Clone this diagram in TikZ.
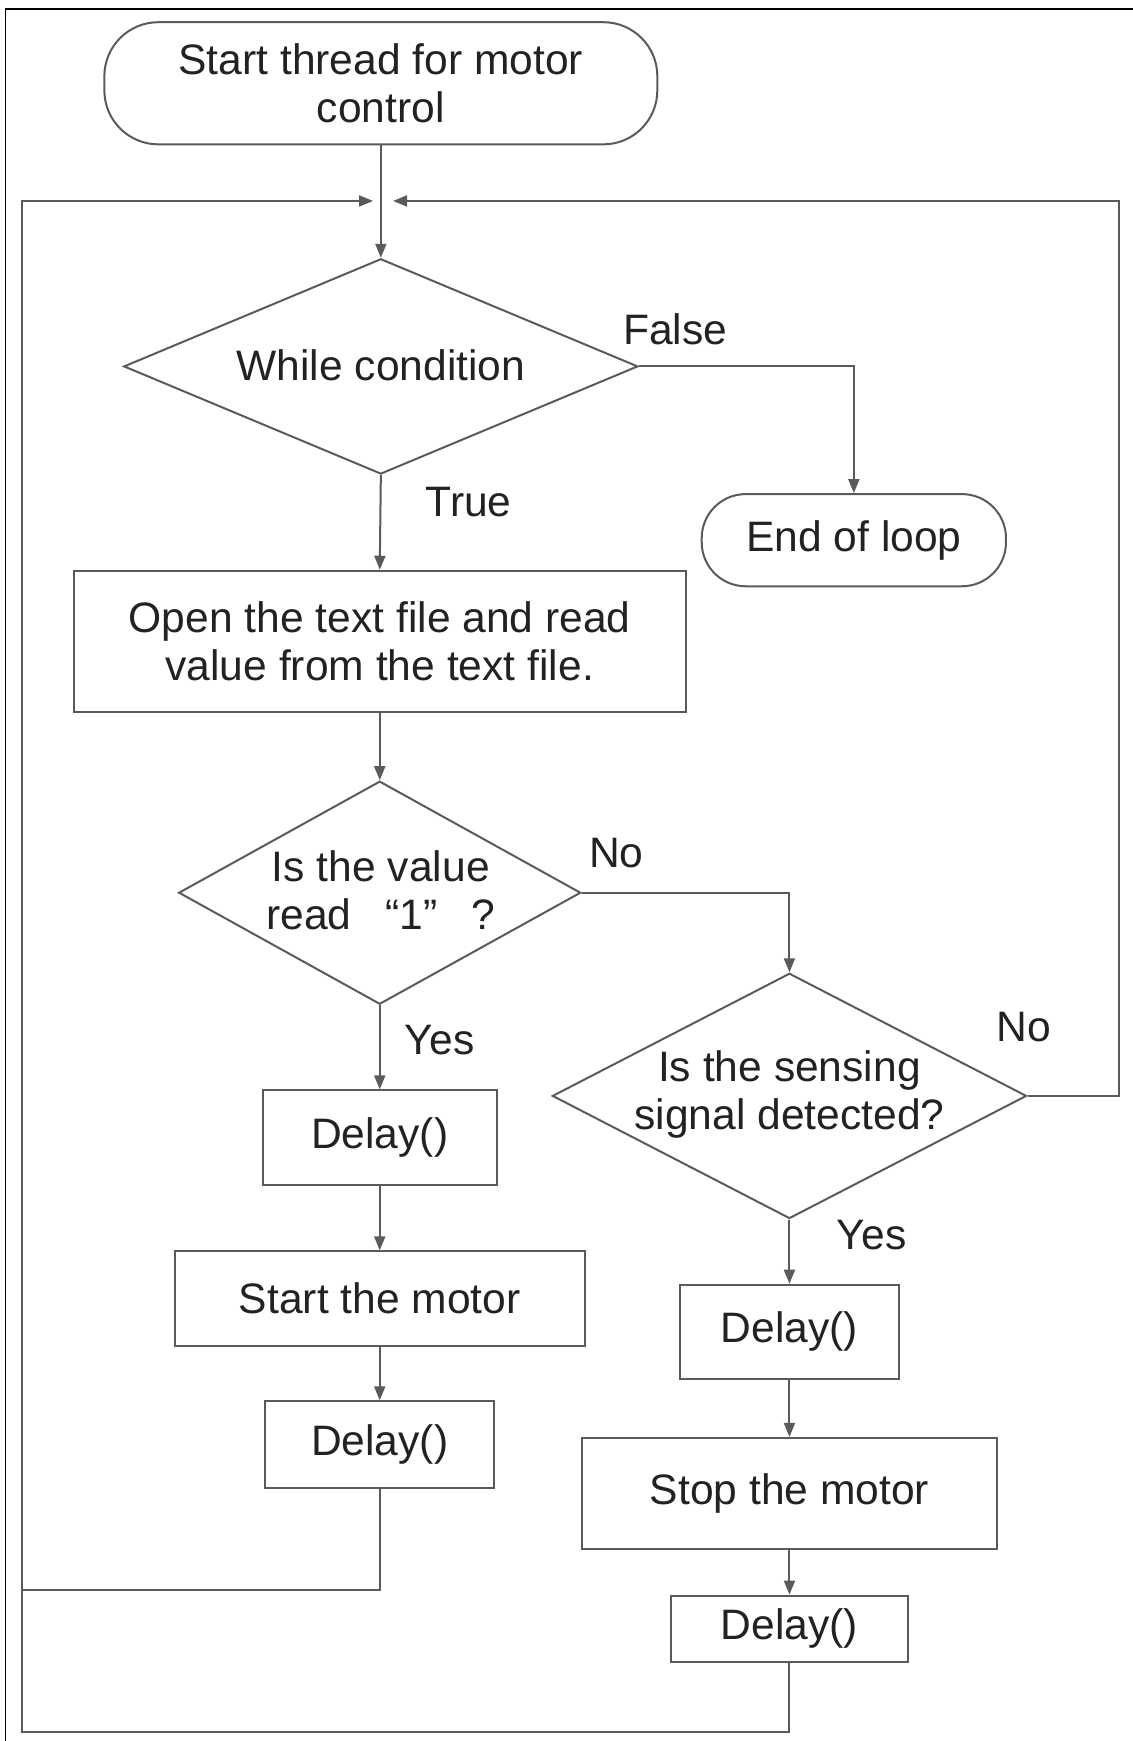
\documentclass[tikz,border=0pt]{standalone}
\usepackage{fontspec}
\setmainfont{Liberation Sans}
\usetikzlibrary{shapes.geometric,arrows.meta}
\definecolor{ln}{HTML}{5A5A5A}
\definecolor{tx}{HTML}{222222}
\begin{document}
\begin{tikzpicture}[x=0.5554pt,y=-0.5554pt,
  font=\fontsize{21.3}{24}\selectfont, text=tx,
  base/.style={draw=ln, line width=1pt, inner sep=0pt, align=center},
  term/.style={base, rectangle, rounded corners=27pt},
  box/.style={base, rectangle},
  dia/.style={base, diamond, aspect=2},
  lbl/.style={inner sep=0pt},
  txt/.style={inner sep=0pt, align=center},
  conn/.style={draw=ln, line width=1pt, -{Triangle[length=7pt,width=5.5pt]}},
  wire/.style={draw=ln, line width=1pt}]
\useasboundingbox (0,0) rectangle (1020,1568);
% frame
\draw[black, line width=0.7pt] (5,1568) -- (5,8) -- (1020,8);

% nodes
\node[term, minimum width=276.6pt, minimum height=61.1pt] (start) at (343,75) {Start thread for motor\\control};
\node[dia, minimum width=257.2pt, minimum height=107.7pt] (d1) at (343,330) {};
\node[txt] (d1t) at (343,329) {While condition};
\node[term, rounded corners=22pt, minimum width=152.2pt, minimum height=46.1pt] (end) at (769,486.5) {End of loop};
\node[box, minimum width=306pt, minimum height=70.5pt] (open) at (342,577.5) {Open the text file and read\\value from the text file.};
\node[dia, minimum width=201.1pt, minimum height=111.6pt] (d2) at (342,804) {};
\node[txt] (d2t) at (343,802) {Is the value\\read\hspace{0.8em}“1”\hspace{0.8em}?};
\node[dia, minimum width=237.2pt, minimum height=122.7pt] (d3) at (711,987) {};
\node[txt] (d3t) at (711,986) {Is the sensing\\signal detected?};
\node[box, minimum width=117.2pt, minimum height=47.2pt] (dl1) at (342,1024.5) {Delay()};
\node[box, minimum width=204.9pt, minimum height=47.2pt] (sm) at (342,1169.5) {Start the motor};
\node[box, minimum width=114.4pt, minimum height=43.3pt] (dl2) at (342,1301) {Delay()};
\node[box, minimum width=109.4pt, minimum height=47.2pt] (dl3) at (711,1199.5) {Delay()};
\node[box, minimum width=207.2pt, minimum height=55.5pt] (stop) at (711,1345) {Stop the motor};
\node[box, minimum width=118.9pt, minimum height=33.3pt] (dl4) at (711,1467) {Delay()};

% labels
\node[lbl] (lf) at (608,297) {False};
\node[lbl] (lt) at (422,452) {True};
\node[lbl] (ln1) at (555,768) {No};
\node[lbl] (ly1) at (396,937) {Yes};
\node[lbl] (ln2) at (922,925) {No};
\node[lbl] (ly2) at (785,1112) {Yes};

% junction coordinates
\coordinate (jl) at (336,181);
\coordinate (jr) at (354,181);
\coordinate (lt1) at (20,181);
\coordinate (lb1) at (20,1432);
\coordinate (lb2) at (20,1560);
\coordinate (rt) at (1008,181);

% connectors
\draw[conn] (start.south) -- (d1.north);
\draw[conn] (d1.south) -- (open.north);
\draw[conn] (d1.east) -| (end.north);
\draw[conn] (open.south) -- (d2.north);
\draw[conn] (d2.east) -| (d3.north);
\draw[conn] (d2.south) -- (dl1.north);
\draw[conn] (dl1.south) -- (sm.north);
\draw[conn] (sm.south) -- (dl2.north);
\draw[conn] (d3.south) -- (dl3.north);
\draw[conn] (dl3.south) -- (stop.north);
\draw[conn] (stop.south) -- (dl4.north);
\draw[conn] (dl2.south) |- (lb1) -- (lt1) -- (jl);
\draw[wire] (dl4.south) |- (lb2) -- (lb1);
\draw[conn] (d3.east) -| (rt) -- (jr);
\end{tikzpicture}
\end{document}
